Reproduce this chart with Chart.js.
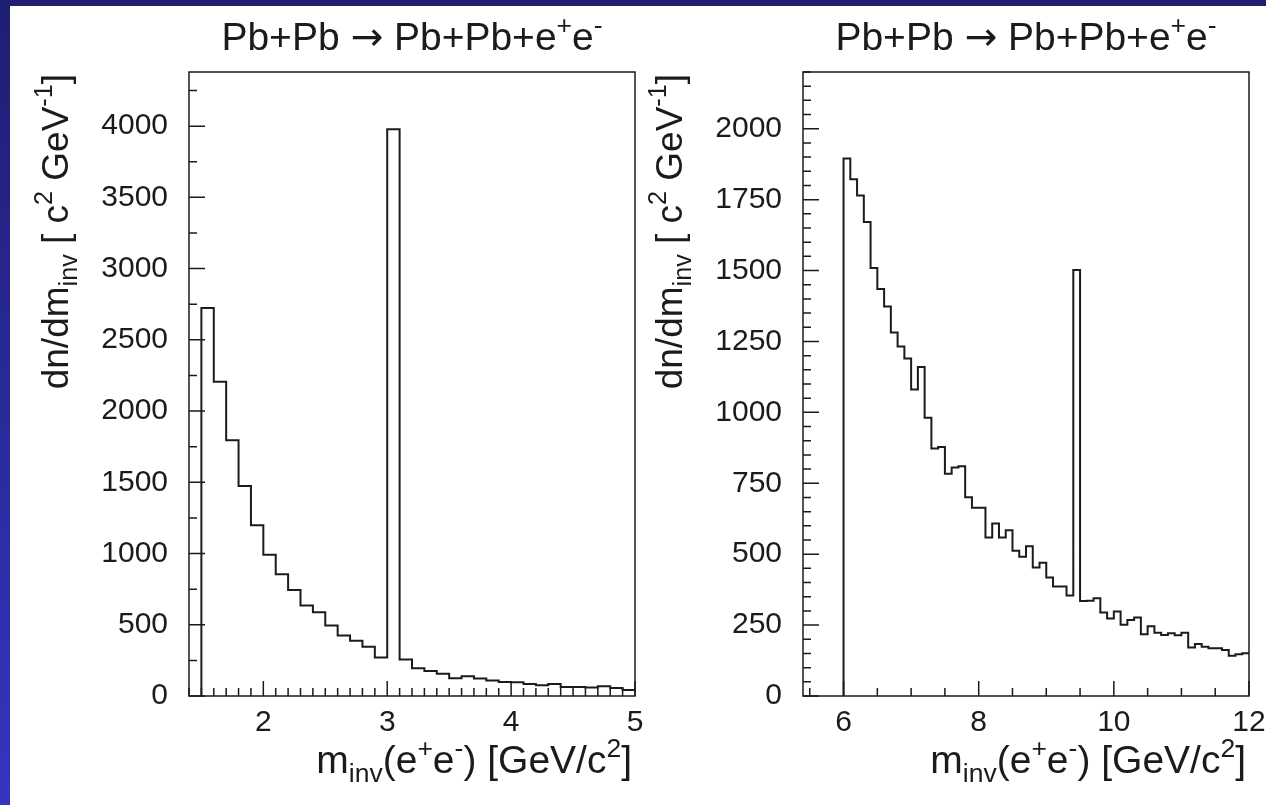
<!DOCTYPE html>
<html>
<head>
<meta charset="utf-8">
<title>Pb+Pb → Pb+Pb+e+e- invariant mass spectra</title>
<script src="https://cdn.jsdelivr.net/npm/chart.js@4.4.1/dist/chart.umd.min.js"></script>
<style>
  html, body { margin: 0; width: 1266px; height: 805px; overflow: hidden; }
  body { position: relative; background: linear-gradient(to bottom, #1e1e72, #3535c0); }
  #sheet { position: absolute; left: 10px; top: 6px; right: 0; bottom: 0; background: #fff; }
  canvas { position: absolute; top: 0; }
  #leftChart { left: 0; }
  #rightChart { left: 640px; }
</style>
</head>
<body>
<div id="sheet"></div>
<canvas id="leftChart" width="660" height="805"></canvas>
<canvas id="rightChart" width="635" height="805"></canvas>
<script>
// J/psi region, 0.1 GeV bins
const LEFT_EDGES = [1.5, 1.6, 1.7, 1.8, 1.9, 2.0, 2.1, 2.2, 2.3, 2.4, 2.5, 2.6, 2.7, 2.8, 2.9,
  3.0, 3.1, 3.2, 3.3, 3.4, 3.5, 3.6, 3.7, 3.8, 3.9, 4.0, 4.1, 4.2, 4.3, 4.4, 4.5, 4.6, 4.7, 4.8, 4.9, 5.0];
const LEFT_COUNTS = [2723, 2206, 1796, 1474, 1199, 991, 855, 744, 636, 587, 495, 425, 387, 345, 270,
  3979, 256, 195, 176, 157, 124, 139, 122, 108, 99, 96, 85, 75, 85, 63, 63, 59, 68, 57, 42];
const LEFT_X_TICKS = [2, 3, 4, 5];
const LEFT_Y_TICKS = [0, 500, 1000, 1500, 2000, 2500, 3000, 3500, 4000];

// Upsilon region, 0.1 GeV bins
const RIGHT_EDGES = [6.0, 6.1, 6.2, 6.3, 6.4, 6.5, 6.6, 6.7, 6.8, 6.9, 7.0, 7.1, 7.2, 7.3, 7.4, 7.5, 7.6, 7.7, 7.8, 7.9,
  8.0, 8.1, 8.2, 8.3, 8.4, 8.5, 8.6, 8.7, 8.8, 8.9, 9.0, 9.1, 9.2, 9.3, 9.4, 9.5, 9.6, 9.7, 9.8, 9.9,
  10.0, 10.1, 10.2, 10.3, 10.4, 10.5, 10.6, 10.7, 10.8, 10.9, 11.0, 11.1, 11.2, 11.3, 11.4, 11.5, 11.6, 11.7, 11.8, 11.9, 12.0];
const RIGHT_COUNTS = [1895, 1822, 1765, 1671, 1509, 1435, 1373, 1282, 1232, 1190,
  1081, 1160, 981, 873, 878, 784, 806, 810, 701, 664,
  664, 559, 608, 559, 584, 512, 491, 528, 453, 470,
  418, 386, 386, 354, 1502, 335, 336, 345, 294, 273,
  298, 251, 268, 277, 218, 246, 223, 215, 221, 214,
  223, 171, 183, 174, 168, 168, 162, 142, 147, 151];
const RIGHT_X_TICKS = [6, 8, 10, 12];
const RIGHT_Y_TICKS = [0, 250, 500, 750, 1000, 1250, 1500, 1750, 2000];

const FONT = "'Liberation Sans', Arial, Helvetica, sans-serif";
const ARROW_FONT = "'DejaVu Sans', sans-serif";
const INK = '#1b1b1b';

// [text, 0 normal | 1 superscript | -1 subscript | 'a' arrow glyph]
const TITLE = [['Pb+Pb ', 0], ['\u2192', 'a'], [' Pb+Pb+e', 0], ['+', 1], ['e', 0], ['-', 1]];
const X_TITLE = [['m', 0], ['inv', -1], ['(e', 0], ['+', 1], ['e', 0], ['-', 1], [') [GeV/c', 0], ['2', 1], [']', 0]];
const Y_TITLE = [['dn/dm', 0], ['inv', -1], [' [ c', 0], ['2', 1], [' GeV', 0], ['-1', 1], [']', 0]];

function histPoints(edges, counts) {
  const pts = [{ x: edges[0], y: 0 }];
  counts.forEach((c, i) => pts.push({ x: edges[i], y: c }));
  pts.push({ x: edges[edges.length - 1], y: counts[counts.length - 1] });
  return pts;
}

function segFont(m, size) {
  if (m === 'a') return size + 'px ' + ARROW_FONT;
  return (m ? size * 0.68 : size) + 'px ' + FONT;
}

function drawRich(ctx, segs, x, y, size, align) {
  let w = 0;
  segs.forEach(([t, m]) => { ctx.font = segFont(m, size); w += ctx.measureText(t).width; });
  let cx = align === 'right' ? x - w : align === 'center' ? x - w / 2 : x;
  ctx.textAlign = 'left';
  ctx.textBaseline = 'alphabetic';
  segs.forEach(([t, m]) => {
    ctx.font = segFont(m, size);
    const dy = m === 1 ? -size * 0.42 : m === -1 ? size * 0.24 : 0;
    ctx.fillText(t, cx, y + dy);
    cx += ctx.measureText(t).width;
  });
}

// box round the plot, inward ticks, and the titles
const framePlugin = {
  id: 'frame',
  afterDraw(chart, args, o) {
    const { ctx, chartArea: a, scales: { x, y } } = chart;
    ctx.save();
    ctx.strokeStyle = INK;
    ctx.lineWidth = 1.5;
    ctx.strokeRect(a.left, a.top, a.right - a.left, a.bottom - a.top);
    ctx.beginPath();
    for (let i = Math.ceil(x.min / o.xMinor - 1e-6); i * o.xMinor <= x.max + 1e-6; i++) {
      const px = x.getPixelForValue(i * o.xMinor);
      ctx.moveTo(px, a.bottom); ctx.lineTo(px, a.bottom - 8);
    }
    x.ticks.forEach(t => {
      const px = x.getPixelForValue(t.value);
      ctx.moveTo(px, a.bottom); ctx.lineTo(px, a.bottom - 15);
    });
    for (let i = 0; i * o.yMinor <= y.max; i++) {
      const py = y.getPixelForValue(i * o.yMinor);
      ctx.moveTo(a.left, py); ctx.lineTo(a.left + 8, py);
    }
    y.ticks.forEach(t => {
      const py = y.getPixelForValue(t.value);
      ctx.moveTo(a.left, py); ctx.lineTo(a.left + 16, py);
    });
    ctx.stroke();

    ctx.fillStyle = INK;
    drawRich(ctx, TITLE, (a.left + a.right) / 2, 50, 39, 'center');
    drawRich(ctx, X_TITLE, a.right - 3, 773, 39, 'right');
    ctx.translate(a.left - 121, a.top + 2);
    ctx.rotate(-Math.PI / 2);
    drawRich(ctx, Y_TITLE, 0, 0, 37, 'right');
    ctx.restore();
  }
};

function makeHist(canvasId, edges, counts, xr, yMax, xTicks, yTicks, xMinor, yMinor, yWidth, padRight) {
  return new Chart(document.getElementById(canvasId), {
    type: 'line',
    data: {
      datasets: [{
        data: histPoints(edges, counts),
        stepped: 'before',
        borderColor: INK,
        borderWidth: 2,
        pointRadius: 0,
        fill: false
      }]
    },
    options: {
      responsive: false,
      animation: false,
      layout: { padding: { top: 72, right: padRight, left: 0, bottom: 0 } },
      plugins: { legend: { display: false }, tooltip: { enabled: false }, frame: { xMinor, yMinor } },
      scales: {
        x: {
          type: 'linear', min: xr[0], max: xr[1],
          grid: { display: false, drawTicks: false },
          border: { display: false },
          ticks: { color: INK, font: { family: FONT, size: 30 }, padding: 9, maxRotation: 0, autoSkip: false,
            callback: v => String(v) },
          afterBuildTicks: s => { s.ticks = xTicks.map(v => ({ value: v })); },
          afterFit: s => { s.height = 109; }
        },
        y: {
          type: 'linear', min: 0, max: yMax,
          grid: { display: false, drawTicks: false },
          border: { display: false },
          ticks: { color: INK, font: { family: FONT, size: 30 }, padding: 21, autoSkip: false,
            callback: v => String(v) },
          afterBuildTicks: s => { s.ticks = yTicks.map(v => ({ value: v })); },
          afterFit: s => { s.width = yWidth; }
        }
      }
    },
    plugins: [framePlugin]
  });
}

// the x labels push the right edge in by half a label plus padding, so the right canvas runs past the page
makeHist('leftChart', LEFT_EDGES, LEFT_COUNTS, [1.4, 5.0], 4380, LEFT_X_TICKS, LEFT_Y_TICKS, 0.1, 250, 189, 25);
makeHist('rightChart', RIGHT_EDGES, RIGHT_COUNTS, [5.4, 12.0], 2200, RIGHT_X_TICKS, RIGHT_Y_TICKS, 0.5, 50, 163, 26);
</script>
</body>
</html>
